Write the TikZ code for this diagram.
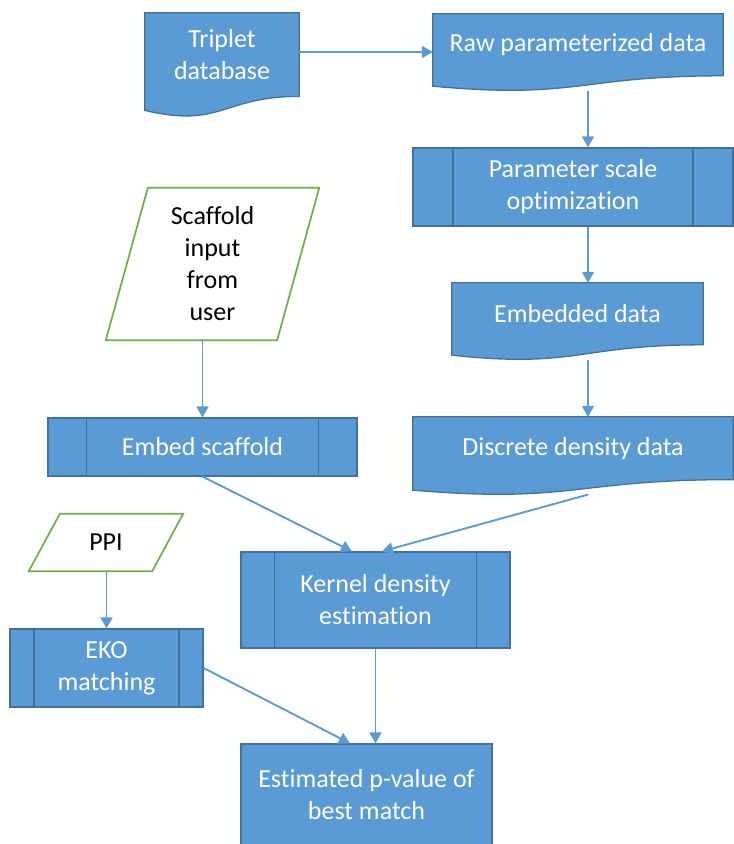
\documentclass[tikz,border=0pt]{standalone}
\usepackage{fontspec}
\setmainfont{Carlito}[Ligatures=NoCommon]
\usetikzlibrary{arrows.meta,calc,backgrounds}
\definecolor{boxblue}{HTML}{5B9BD5}
\definecolor{edgeblue}{HTML}{41719C}
\definecolor{iogreen}{HTML}{70AD47}
\tikzset{
  flow/.style={draw=boxblue, line width=1.9pt, -{Triangle[length=11pt,width=12pt]}},
  boxtext/.style={text=white, align=center, inner sep=0pt, font=\fontsize{26}{32}\selectfont},
  iotext/.style={text=black, align=center, inner sep=0pt, font=\fontsize{26}{32}\selectfont},
  docfill/.style={fill=boxblue, draw=edgeblue, line width=1.3pt},
  procbox/.style={boxtext, draw=edgeblue, fill=boxblue, line width=1.3pt,
    path picture={
      \draw[edgeblue, line width=1.3pt]
        ($(path picture bounding box.north west)!0.125!(path picture bounding box.north east)$) --
        ($(path picture bounding box.south west)!0.125!(path picture bounding box.south east)$)
        ($(path picture bounding box.north west)!0.875!(path picture bounding box.north east)$) --
        ($(path picture bounding box.south west)!0.875!(path picture bounding box.south east)$);
    }},
  termbox/.style={boxtext, draw=edgeblue, fill=boxblue, line width=1.3pt}
}
\newcommand{\docshape}[1]{%
  \filldraw[docfill] (#1.north west) -- (#1.north east) -- (#1.south east)
    .. controls (#1.south) and ($(#1.north)!1.384!(#1.south)$) .. ($(#1.north west)!1.1675!(#1.south west)$) -- cycle;}
\newcommand{\ioshape}[2]{%
  \draw[iogreen, line width=1.7pt] ($(#1.north west)+(#2,0)$) -- (#1.north east) -- ($(#1.south east)-(#2,0)$) -- (#1.south west) -- cycle;}
\begin{document}
\begin{tikzpicture}[x=1pt,y=-1pt]
        \useasboundingbox (0,0) rectangle (734,844);
        \node[boxtext, minimum width=154pt, minimum height=83.2pt] (TD) at (222,54.6) {Triplet\\database};
        \node[boxtext, minimum width=290pt, minimum height=61.6pt] (RD) at (578,44.8) {Raw parameterized data};
        \node[procbox, minimum width=320pt, minimum height=78pt] (PS) at (573,187) {Parameter scale\\optimization};
        \node[boxtext, minimum width=251pt, minimum height=61.6pt] (ED) at (577.5,313.8) {Embedded data};
        \node[boxtext, minimum width=320pt, minimum height=62.4pt] (DD) at (573,448.2) {Discrete density data};
        
        \node[iotext, minimum width=213pt, minimum height=152pt] (SI) at (212.5,264) {Scaffold\\input\\from\\user};
        \node[procbox, minimum width=309pt, minimum height=58pt] (ES) at (202.5,447) {Embed scaffold};
        \node[procbox, minimum width=269pt, minimum height=96pt] (KDE) at (375.5,600) {Kernel density\\estimation};
        
        \node[iotext, minimum width=154pt, minimum height=57pt] (PPI) at (106,542.5) {PPI};
        \node[procbox, minimum width=193pt, minimum height=78pt] (EKO) at (106.5,668) {EKO\\matching};
        \node[termbox, minimum width=251pt, minimum height=102pt] (PV) at (366.5,795) {Estimated p-value of\\best match};
        
        \begin{scope}[on background layer]
          \docshape{TD}
          \docshape{RD}
          \docshape{ED}
          \docshape{DD}
        \end{scope}
        \ioshape{SI}{42}
        \ioshape{PPI}{31}
        
        \coordinate (TDout) at ($(TD.east)+(0,-2.6)$);
        \draw[flow] (TDout) -- (TDout -| RD.west);
        \draw[flow] ($(RD.south)+(10,15)$) -- ($(PS.north)+(15,0)$);
        \draw[flow] ($(PS.south)+(15,0)$) -- ($(ED.north)+(10.5,0)$);
        \draw[flow] ($(ED.south)+(10.5,15)$) -- ($(DD.north)+(15,0)$);
        \draw[flow] (SI.south -| ES.north) -- (ES.north);
        \draw[flow] (ES.south) -- ($(KDE.north)+(-23.5,0)$);
        \draw[flow] ($(DD.south)+(15,15)$) -- ($(KDE.north)+(6.5,0)$);
        \draw[flow] (PPI.south -| EKO.north) -- (EKO.north);
        \draw[flow] (EKO.east) -- ($(PV.north)+(-16.5,0)$);
        \draw[flow] (KDE.south) -- (KDE.south |- PV.north);
      \end{tikzpicture}
\end{document}
